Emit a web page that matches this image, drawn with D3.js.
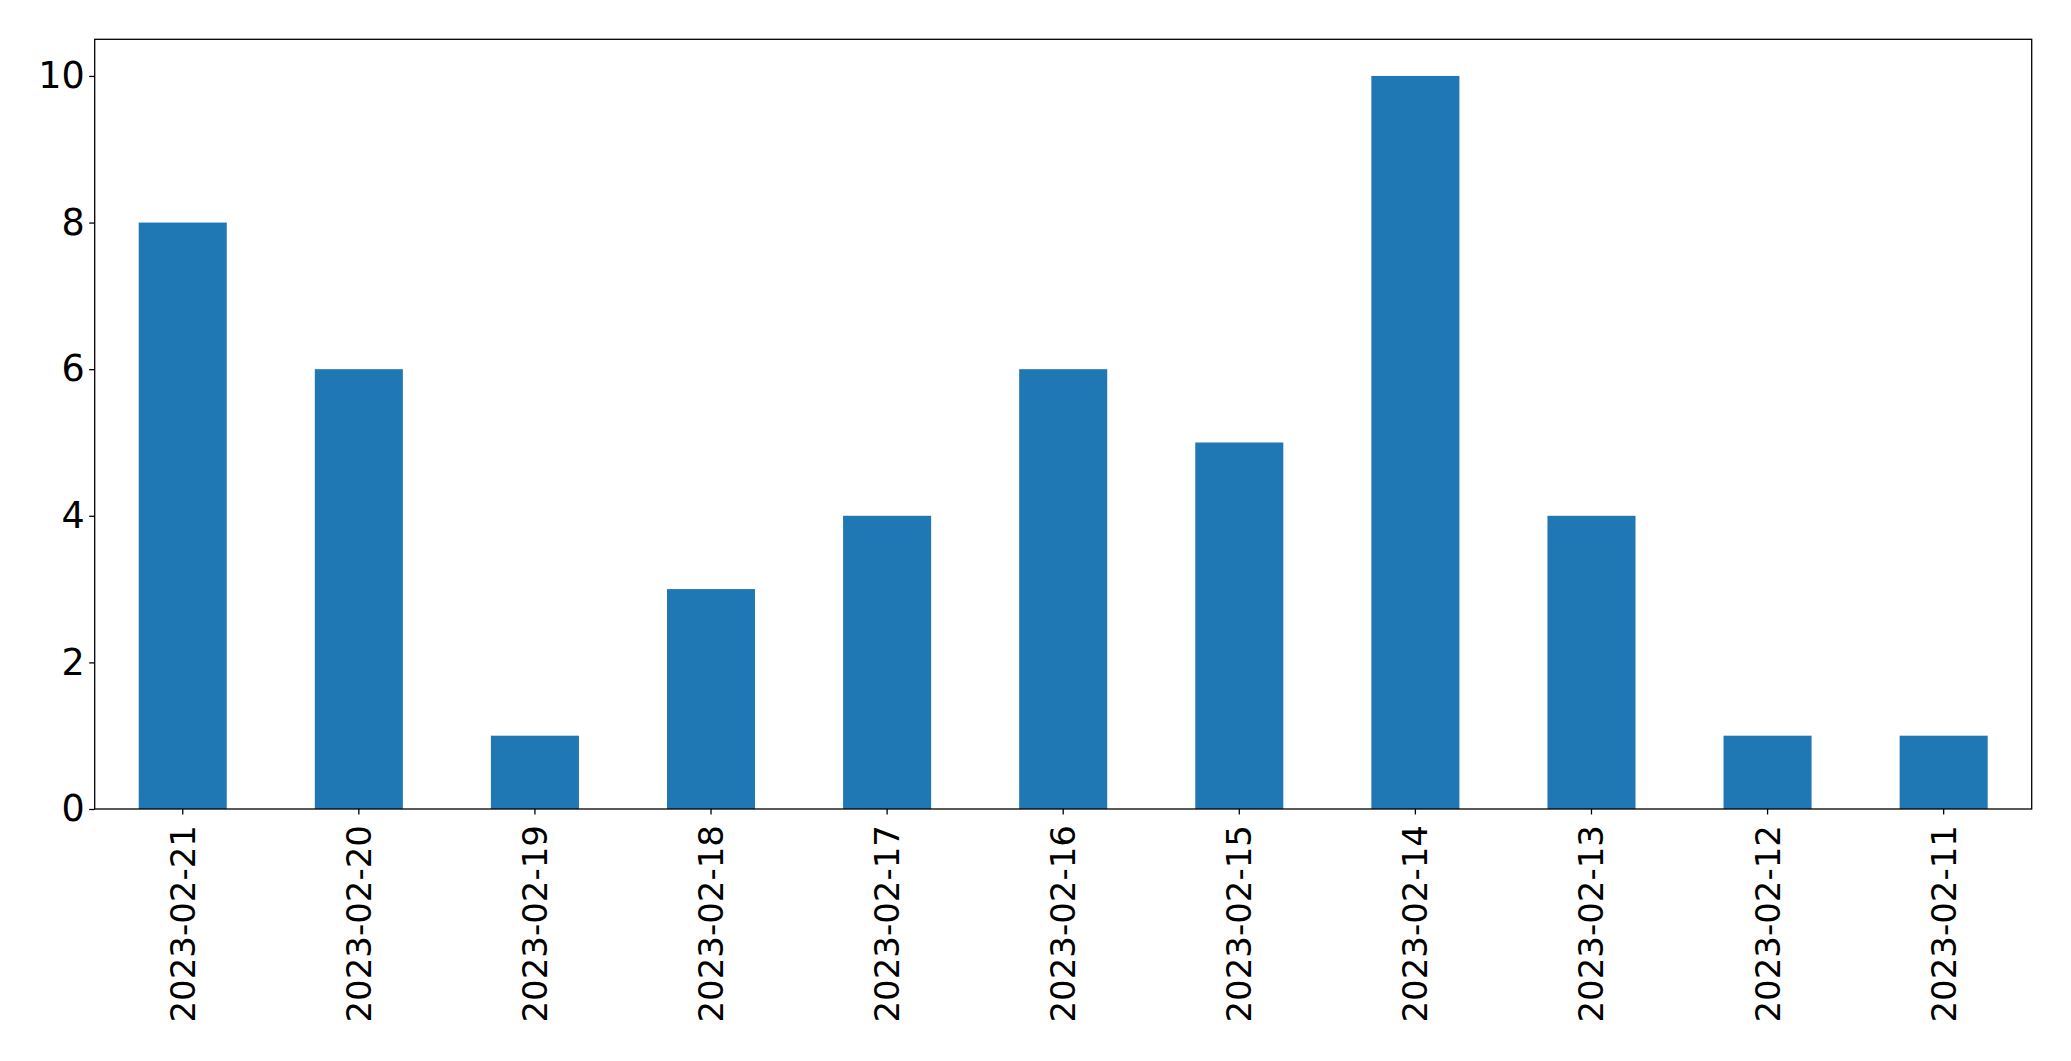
<!DOCTYPE html>
<html><head><meta charset="utf-8">
<script src="https://cdn.jsdelivr.net/npm/d3@7"></script>
<style>body{margin:0;background:#fff}svg{display:block}</style>
</head><body>
<script>
const categories = ["2023-02-21","2023-02-20","2023-02-19","2023-02-18","2023-02-17","2023-02-16","2023-02-15","2023-02-14","2023-02-13","2023-02-12","2023-02-11"];
const values = [8,6,1,3,4,6,5,10,4,1,1];
const yTicks = [0,2,4,6,8,10];

const W = 2071, H = 1061;
const m = {left: 94.7, right: 2071-2031.7, top: 39.3, bottom: 1061-809};
const svg = d3.select("body").append("svg").attr("width", W).attr("height", H);
const iw = W - m.left - m.right, ih = H - m.top - m.bottom;
const g = svg.append("g").attr("transform", `translate(${m.left},${m.top})`);

const x = d3.scaleBand().domain(categories).range([0, iw]).paddingInner(0.5).paddingOuter(0.25);
const y = d3.scaleLinear().domain([0, 10.5]).range([ih, 0]);

g.selectAll("rect.bar").data(values).enter().append("rect")
  .attr("class","bar")
  .attr("x", (d,i) => x(categories[i]))
  .attr("width", x.bandwidth())
  .attr("y", d => y(d))
  .attr("height", d => ih - y(d))
  .attr("fill", "#1f77b4");

const font = "DejaVu Sans";
const yAxis = g.append("g").call(d3.axisLeft(y).tickValues(yTicks).tickSize(5.5).tickPadding(4.5).tickFormat(d3.format("d")));
yAxis.select(".domain").remove();
yAxis.selectAll("line").attr("stroke","#000").attr("stroke-width",1.3);
yAxis.selectAll("text").attr("font-family", font).attr("font-size", 36.5).attr("fill","#000");

const xAxis = g.append("g").attr("transform", `translate(0,${ih})`).call(d3.axisBottom(x).tickSize(5.5).tickSizeOuter(0));
xAxis.select(".domain").remove();
xAxis.selectAll("line").attr("stroke","#000").attr("stroke-width",1.3);
xAxis.selectAll("text")
  .attr("font-family", font).attr("font-size", 34).attr("fill","#000")
  .attr("text-anchor","end").attr("dy", null).attr("y", 0)
  .attr("transform", "translate(0,16) rotate(-90)")
  .attr("dominant-baseline","central");

g.append("rect").attr("x",0).attr("y",0).attr("width",iw).attr("height",ih)
  .attr("fill","none").attr("stroke","#000").attr("stroke-width",1.3);
</script>
</body></html>
